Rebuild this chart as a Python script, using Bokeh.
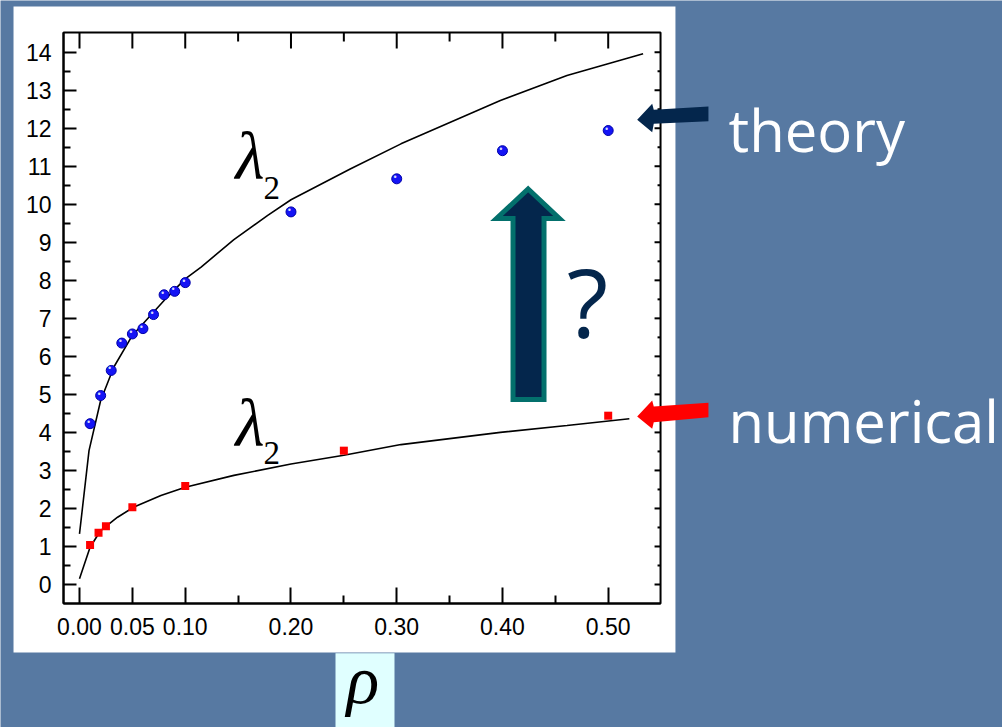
from bokeh.plotting import figure
from bokeh.models import (Range1d, FixedTicker, NumeralTickFormatter,
                          BoxAnnotation, PolyAnnotation, Label, ColumnDataSource)
from bokeh.core.properties import value
from bokeh.embed import file_html
from bokeh.resources import INLINE

# ---- data -------------------------------------------------------------
# theory points (blue spheres)
theory_rho = [0.01, 0.02, 0.03, 0.04, 0.05, 0.06, 0.07, 0.08, 0.09, 0.10,
              0.20, 0.30, 0.40, 0.50]
theory_lam = [4.23, 4.97, 5.63, 6.35, 6.59, 6.73, 7.10, 7.62, 7.71, 7.94,
              9.80, 10.67, 11.41, 11.94]

# numerical points (red squares)
numerical_rho = [0.01, 0.018, 0.025, 0.05, 0.10, 0.25, 0.50]
numerical_lam = [1.04, 1.36, 1.53, 2.03, 2.59, 3.52, 4.44]

# upper fitted curve
upper_rho = [0.0, 0.009, 0.02, 0.0325, 0.05, 0.083, 0.10, 0.115, 0.146,
             0.178, 0.20, 0.256, 0.304, 0.398, 0.461, 0.533]
upper_lam = [1.33, 3.52, 4.84, 5.72, 6.55, 7.56, 8.04, 8.35, 9.07,
             9.71, 10.12, 10.93, 11.59, 12.73, 13.39, 13.96]

# lower fitted curve
lower_rho = [0.0, 0.01, 0.02, 0.036, 0.051, 0.077, 0.10, 0.146, 0.20,
             0.25, 0.304, 0.398, 0.461, 0.52]
lower_lam = [0.15, 0.98, 1.42, 1.77, 2.03, 2.34, 2.56, 2.87, 3.17,
             3.40, 3.68, 4.00, 4.18, 4.36]

x_major = [0.0, 0.05, 0.10, 0.20, 0.30, 0.40, 0.50]
x_minor = [0.15, 0.25, 0.35, 0.45]
y_major = list(range(0, 15))
y_minor = [i + 0.5 for i in range(0, 14)]

# ---- layout / styling constants -------------------------------------------
# the whole slide is one frame; the chart box sits inside it
VIEW_X = (-0.074712, 0.872895)
VIEW_Y = (-3.7612, 15.3603)
BOX_L, BOX_R = -0.0151, 0.5495
BOX_B, BOX_T = -0.5, 14.518

SLIDE_BG = "#5779A2"
NAVY = "#04264C"
TEAL = "#03706C"
TICK_FONT = "'Liberation Sans Narrow', 'Liberation Sans', sans-serif"
SLIDE_FONT = "Open Sans"
MATH_FONT = "Liberation Serif"

p = figure(width=1002, height=727,
           x_range=Range1d(*VIEW_X), y_range=Range1d(*VIEW_Y),
           output_backend="svg", toolbar_location=None, min_border=0,
           background_fill_color=SLIDE_BG, border_fill_color=SLIDE_BG,
           outline_line_color=None)
p.xgrid.visible = False
p.ygrid.visible = False

# white card behind the chart and the pale box behind the rho symbol
p.add_layout(BoxAnnotation(left=-0.0624, right=0.5636, bottom=-1.789, top=15.20,
                           fill_color="white", fill_alpha=1, line_color=None,
                           level="underlay"))
p.add_layout(BoxAnnotation(left=0.2421, right=0.2979, bottom=VIEW_Y[0] - 1,
                           top=-1.807, fill_color="#E0FFFF", fill_alpha=1,
                           line_color=None, level="underlay"))


def style_axis(ax, major_in, minor_in):
    ax.axis_line_width = 2
    ax.axis_line_color = "black"
    ax.major_tick_line_width = 2
    ax.minor_tick_line_width = 2
    ax.major_tick_in = major_in
    ax.major_tick_out = 0
    ax.minor_tick_in = minor_in
    ax.minor_tick_out = 0
    ax.major_label_text_font = TICK_FONT
    ax.major_label_text_font_size = "23px"
    ax.major_label_text_color = "black"


xb = p.xaxis[0]
xb.ticker = FixedTicker(ticks=x_major, minor_ticks=x_minor)
xb.formatter = NumeralTickFormatter(format="0.00")
xb.fixed_location = BOX_B
xb.bounds = (BOX_L, BOX_R)
style_axis(xb, 16, 8)
xb.major_label_standoff = 14

yl = p.yaxis[0]
yl.ticker = FixedTicker(ticks=y_major, minor_ticks=y_minor)
yl.fixed_location = BOX_L
yl.bounds = (BOX_B, BOX_T)
style_axis(yl, 13, 7)
yl.major_label_standoff = 12

# closed frame plus inward ticks on the top and right edges
p.add_layout(BoxAnnotation(left=BOX_L, right=BOX_R, bottom=BOX_B, top=BOX_T,
                           fill_color=None, fill_alpha=0, line_color="black",
                           line_alpha=1, line_width=2))
p.ray(x=x_major, y=[BOX_T] * len(x_major), length=16, length_units="screen",
      angle=-90, angle_units="deg", line_color="black", line_width=2)
p.ray(x=x_minor, y=[BOX_T] * len(x_minor), length=9, length_units="screen",
      angle=-90, angle_units="deg", line_color="black", line_width=2)
p.ray(x=[BOX_R] * len(y_major), y=y_major, length=6, length_units="screen",
      angle=180, angle_units="deg", line_color="black", line_width=2)
p.ray(x=[BOX_R] * len(y_minor), y=y_minor, length=3, length_units="screen",
      angle=180, angle_units="deg", line_color="black", line_width=2)

# ---- curves and points ----------------------------------------------------
p.line(upper_rho, upper_lam, line_color="black", line_width=1.6)
p.line(lower_rho, lower_lam, line_color="black", line_width=1.6)

theory_src = ColumnDataSource(dict(x=theory_rho, y=theory_lam,
                                   t=["\u2022"] * len(theory_rho)))
p.scatter("x", "y", source=theory_src, marker="circle", size=10,
          fill_color="#1414F5", line_color="#0000A8", line_width=1)
p.text("x", "y", text="t", source=theory_src, x_offset=-1.5, y_offset=-1.5,
       text_align="center", text_baseline="middle", text_color="white",
       text_alpha=0.85, text_font_size="8px", text_font=value("DejaVu Sans"))

p.scatter(numerical_rho, numerical_lam, marker="square", size=8,
          fill_color="#FF0000", line_color=None)

# ---- lambda labels ---------------------------------------------------------
for lx, ly, sy in [(0.1475, 11.28, 10.42), (0.1475, 4.256, 3.446)]:
    p.add_layout(Label(x=lx, y=ly, text="\u03bb", text_font=MATH_FONT,
                       text_font_style="italic", text_font_size="67px",
                       text_baseline="alphabetic", text_color="black"))
    p.add_layout(Label(x=lx + 0.0265, y=sy, text="2", text_font=MATH_FONT,
                       text_font_size="33px", text_baseline="alphabetic",
                       text_color="black"))

# x-axis symbol
p.add_layout(Label(x=0.268, y=-2.50, text="\u03c1", text_font=MATH_FONT,
                   text_font_style="italic", text_font_size="68px",
                   text_align="center", text_baseline="alphabetic",
                   text_color="black"))

# ---- arrows and slide text --------------------------------------------------
p.add_layout(PolyAnnotation(
    xs=[0.4243, 0.4539, 0.4393, 0.4393, 0.4100, 0.4100, 0.3944],
    ys=[10.402, 9.627, 9.627, 4.866, 4.866, 9.627, 9.627],
    fill_color=NAVY, fill_alpha=1, line_color=TEAL, line_alpha=1,
    line_width=5, line_join="miter", level="overlay"))

p.add_layout(Label(x=0.4805, y=7.47, text="?", text_font=SLIDE_FONT,
                   text_font_size="96px", text_align="center",
                   text_baseline="alphabetic", text_color=NAVY))

p.add_layout(PolyAnnotation(
    xs=[0.5274, 0.5416, 0.5431, 0.5948, 0.5948, 0.5431, 0.5416],
    ys=[12.222, 12.643, 12.486, 12.573, 12.186, 12.117, 11.896],
    fill_color=NAVY, fill_alpha=1, line_color=None, level="overlay"))
p.add_layout(PolyAnnotation(
    xs=[0.5274, 0.5416, 0.5431, 0.5948, 0.5948, 0.5431, 0.5416],
    ys=[4.419, 4.840, 4.682, 4.779, 4.400, 4.269, 4.095],
    fill_color="#FF0000", fill_alpha=1, line_color=None, level="overlay"))

p.add_layout(Label(x=0.6138, y=11.98, text="theory", text_font=SLIDE_FONT,
                   text_font_size="58px", text_baseline="alphabetic",
                   text_color="white"))
p.add_layout(Label(x=0.6138, y=4.319, text="numerical", text_font=SLIDE_FONT,
                   text_font_size="58px", text_baseline="alphabetic",
                   text_color="white"))

open("out.html", "w").write(file_html(p, INLINE))
